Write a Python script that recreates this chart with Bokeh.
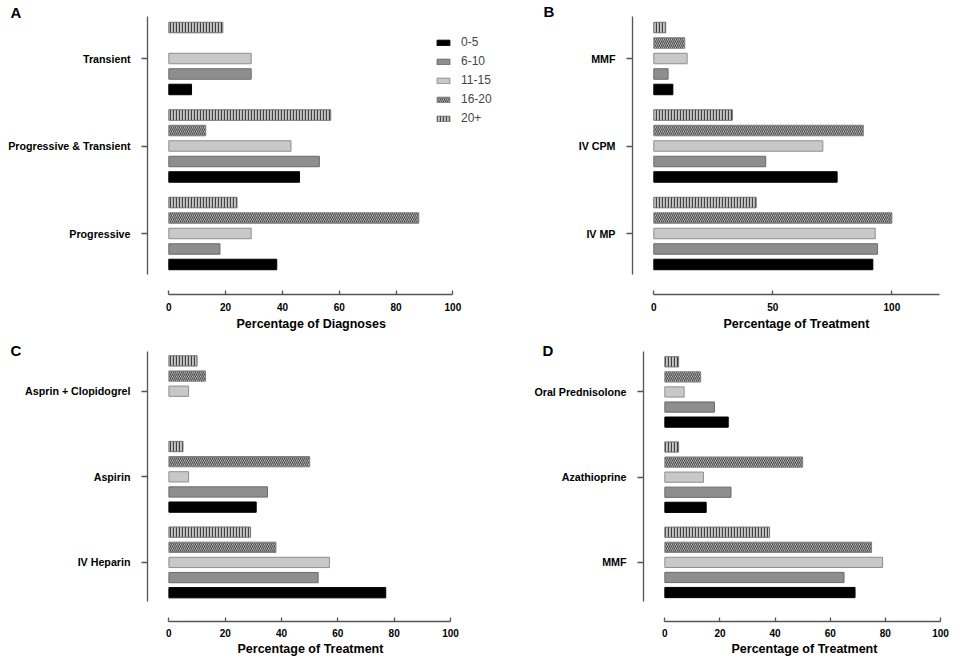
from bokeh.plotting import figure
from bokeh.layouts import column, row
from bokeh.models import FixedTicker, Legend, LegendItem, Title
from bokeh.embed import file_html
from bokeh.resources import INLINE

# ---------------- data ----------------
series = ["0-5", "6-10", "11-15", "16-20", "20+"]

a_cats = ["Progressive", "Progressive & Transient", "Transient"]
a_vals = {
    "0-5":   [38, 46, 8],
    "6-10":  [18, 53, 29],
    "11-15": [29, 43, 29],
    "16-20": [88, 13, 0],
    "20+":   [24, 57, 19],
}

b_cats = ["IV MP", "IV CPM", "MMF"]
b_vals = {
    "0-5":   [92, 77, 8],
    "6-10":  [94, 47, 6],
    "11-15": [93, 71, 14],
    "16-20": [100, 88, 13],
    "20+":   [43, 33, 5],
}

c_cats = ["IV Heparin", "Aspirin", "Asprin + Clopidogrel"]
c_vals = {
    "0-5":   [77, 31, 0],
    "6-10":  [53, 35, 0],
    "11-15": [57, 7, 7],
    "16-20": [38, 50, 13],
    "20+":   [29, 5, 10],
}

d_cats = ["MMF", "Azathioprine", "Oral Prednisolone"]
d_vals = {
    "0-5":   [69, 15, 23],
    "6-10":  [65, 24, 18],
    "11-15": [79, 14, 7],
    "16-20": [75, 50, 13],
    "20+":   [38, 5, 5],
}

# ---------------- styles ----------------
STY = {
    "0-5":   dict(fill_color="#000000", line_color="#000000"),
    "6-10":  dict(fill_color="#8e8e8e", line_color="#6a6a6a"),
    "11-15": dict(fill_color="#c8c8c8", line_color="#8e8e8e"),
    "16-20": dict(fill_color="#dedede", line_color="#808080",
                  hatch_pattern="left_diagonal_line", hatch_color="#505050",
                  hatch_scale=4, hatch_weight=1.3),
    "20+":   dict(fill_color="#c8c8c8", line_color="#707070",
                  hatch_pattern="vertical_line", hatch_color="#404040",
                  hatch_scale=3, hatch_weight=1.3),
}
STEP = 0.177
BAR_H = 0.12
FONT = "Liberation Sans"


def make_title(text, offset, standoff, size):
    kw = dict(text=text, align="left", offset=offset,
              text_font=FONT, text_font_style="bold", text_font_size=size,
              text_color="#000000")
    try:
        return Title(standoff=standoff, **kw)
    except Exception:
        return Title(standoff=0, **kw)


def panel(cats, vals, xlab, letter, w, h, xr, yr, xbounds, xticks, ybounds,
          mb_left, mb_right, mb_top, mb_bottom, letter_off, letter_so,
          xlab_off, tick_so=8, lab_so=2, legend=False):
    p = figure(width=w, height=h, x_range=xr, y_range=yr,
               output_backend="svg", toolbar_location=None,
               min_border_left=mb_left, min_border_right=mb_right,
               min_border_top=mb_top, min_border_bottom=mb_bottom)
    p.outline_line_color = None
    p.grid.visible = False
    p.background_fill_color = "white"
    p.border_fill_color = "white"

    p.add_layout(make_title(letter, letter_off, letter_so, "15px"), "above")

    renderers = {}
    for k, s in enumerate(series):
        ys, xs = [], []
        for i, v in enumerate(vals[s]):
            if v > 0:
                ys.append(i + (k - 2) * STEP)
                xs.append(v)
        r = p.hbar(y=ys, right=xs, left=0, height=BAR_H,
                   line_width=1, **STY[s])
        renderers[s] = r

    # x axis
    xa = p.xaxis[0]
    xa.bounds = xbounds
    xa.ticker = FixedTicker(ticks=xticks)
    xa.axis_line_color = "#555555"
    xa.axis_line_width = 1.3
    xa.major_tick_line_color = "#555555"
    xa.major_tick_line_width = 1.3
    xa.major_tick_in = 4
    xa.major_tick_out = 0
    xa.minor_tick_line_color = None
    xa.major_label_text_font = FONT
    xa.major_label_text_font_style = "bold"
    xa.major_label_text_font_size = "10px"
    xa.major_label_text_color = "#000000"
    xa.major_label_standoff = tick_so

    # x axis title, centred on the axis bounds (not the frame)
    p.add_layout(make_title(xlab, xlab_off, lab_so, "12.5px"), "below")

    # y axis
    ya = p.yaxis[0]
    ya.bounds = ybounds
    ya.ticker = FixedTicker(ticks=list(range(len(cats))))
    ya.major_label_overrides = {i: c for i, c in enumerate(cats)}
    ya.axis_line_color = "#555555"
    ya.axis_line_width = 1.3
    ya.major_tick_line_color = "#555555"
    ya.major_tick_line_width = 1.3
    ya.major_tick_in = 0
    ya.major_tick_out = 6
    ya.minor_tick_line_color = None
    ya.major_label_text_font = FONT
    ya.major_label_text_font_style = "bold"
    ya.major_label_text_font_size = "10.7px"
    ya.major_label_text_color = "#000000"
    ya.major_label_standoff = 11

    if legend:
        items = [LegendItem(label=s, renderers=[renderers[s]]) for s in series]
        lg = Legend(items=items, location=(288, 169),
                    glyph_width=16, glyph_height=7, label_text_font=FONT,
                    label_text_font_size="12px", label_standoff=10,
                    spacing=5, padding=0, margin=0,
                    border_line_color=None, background_fill_color=None,
                    label_height=12)
        p.add_layout(lg, "center")
    return p


pA = panel(a_cats, a_vals, "Percentage of Diagnoses", "A", 507, 333,
           (-7.5, 115), (-0.697, 2.48), (0, 100), [0, 20, 40, 60, 80, 100],
           (-0.469, 2.477), 147, 12, 16, 39, -137, -8, 89, legend=True)
pB = panel(b_cats, b_vals, "Percentage of Treatment", "B", 449, 333,
           (-8.95, 120), (-0.697, 2.48), (0, 120), [0, 50, 100],
           (-0.469, 2.477), 125, 17, 16, 39, -89, -7, 91)
pC = panel(c_cats, c_vals, "Percentage of Treatment", "C", 507, 335,
           (-7.6, 100), (-0.69, 2.464), (0, 100), [0, 20, 40, 60, 80, 100],
           (-0.46, 2.464), 147, 57, 13, 47, -137, -14, 90, tick_so=7, lab_so=0)
pD = panel(d_cats, d_vals, "Percentage of Treatment", "D", 449, 335,
           (-7.74, 100), (-0.694, 2.475), (0, 100), [0, 20, 40, 60, 80, 100],
           (-0.459, 2.475), 136, 16, 18, 47, -101, -14, 88, tick_so=7, lab_so=0)

layout = column(row(pA, pB), row(pC, pD))
open("out.html", "w").write(file_html(layout, INLINE))
